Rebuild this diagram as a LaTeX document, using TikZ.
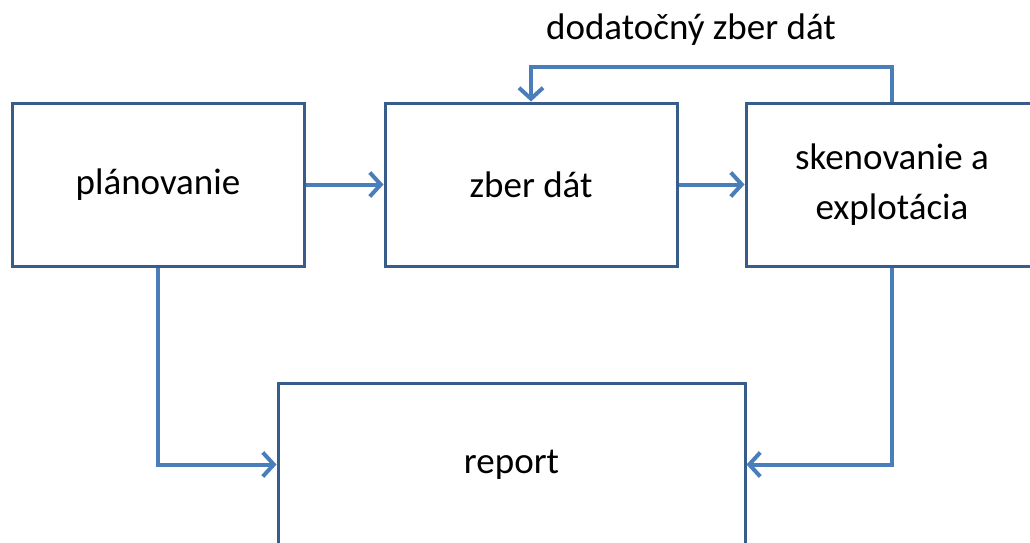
\documentclass[tikz,border=0pt]{standalone}
\usepackage{fontspec}
\setmainfont{Carlito}
\usetikzlibrary{arrows.meta}
\definecolor{boxblue}{HTML}{385D8A}
\definecolor{arrblue}{HTML}{4A7EBB}
\begin{document}
\begin{tikzpicture}[x=1pt,y=-1pt,
  box/.style={draw=boxblue,line width=3pt,minimum width=292pt,minimum height=163pt,inner sep=0pt,font=\fontsize{37}{50}\selectfont,align=center},
  conn/.style={draw=arrblue,line width=4pt,-{Straight Barb[length=11pt,width=24pt,line width=4pt]}}]
\useasboundingbox (0,0) rectangle (1030,542);
\clip (0,0) rectangle (1030,542);
\node[box] (plan) at (158,184.5) {plánovanie};
\node[box] (zber) at (531,184.5) {zber dát};
\node[box] (sken) at (892,184.5) {skenovanie a\\explotácia};
\node[box,minimum width=467pt] (report) at (511.5,464.5) {report};
\node[font=\fontsize{37}{50}\selectfont] (lbl) at (691,30) {dodatočný zber dát};
\coordinate (loopR) at (892,67);
\draw[conn] (plan.east) -- (zber.west);
\draw[conn] (zber.east) -- (sken.west);
\draw[conn] (sken.north) -- (loopR) -| (zber.north);
\draw[conn] (plan.south) |- (report.west);
\draw[conn] (sken.south) |- (report.east);
\end{tikzpicture}
\end{document}
